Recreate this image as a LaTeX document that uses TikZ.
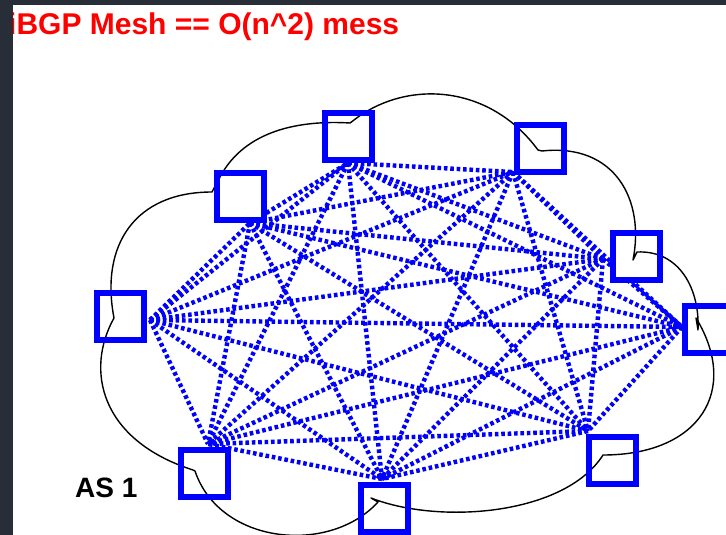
\documentclass[tikz,border=0pt]{standalone}
\usepackage{fontspec}
\setmainfont{Liberation Sans}
\definecolor{frameband}{HTML}{272E38}
\pgfdeclarelayer{meshlayer}
\pgfdeclarelayer{filllayer}
\pgfdeclarelayer{cloudlayer}
\pgfsetlayers{meshlayer,filllayer,cloudlayer,main}
\tikzset{
  router/.style={rectangle, minimum size=47pt, inner sep=0pt, draw=blue, line width=6pt},
  meshlink/.style={blue, line width=4.4pt, dash pattern=on 3.6pt off 2.8pt},
  cloudline/.style={black, line width=1.4pt, line join=round},
  titletext/.style={anchor=base west, text=red, font=\bfseries\fontsize{30}{32}\selectfont, inner sep=0pt},
  astext/.style={anchor=base west, text=black, font=\bfseries\fontsize{28}{30}\selectfont, inner sep=0pt}
}
\begin{document}
\begin{tikzpicture}[x=1pt, y=-1pt]
\useasboundingbox (0,0) rectangle (726,535);
\clip (0,0) rectangle (726,535);

% routers (frames on the main layer)
\node[router] (L)  at (120,316) {};
\node[router] (TL) at (240,196) {};
\node[router] (T)  at (348,136) {};
\node[router] (TR) at (540,148) {};
\node[router] (RU) at (636,256) {};
\node[router] (R)  at (708,329) {};
\node[router] (BR) at (612,460) {};
\node[router] (B)  at (384,508) {};
\node[router] (BL) at (204,473) {};

% points on each router where its sessions attach
\coordinate (L-port)  at (150,320);
\coordinate (TL-port) at (250,223);
\coordinate (T-port)  at (348,163);
\coordinate (TR-port) at (513,172);
\coordinate (RU-port) at (603,259);
\coordinate (R-port)  at (682,327);
\coordinate (BR-port) at (588,431);
\coordinate (B-port)  at (382,479);
\coordinate (BL-port) at (208,444);

% page background and full mesh of iBGP sessions
\begin{pgfonlayer}{meshlayer}
  \fill[white] (0,0) rectangle (726,535);
  \foreach \a [count=\i] in {L,TL,T,TR,RU,R,BR,B,BL}{
    \foreach \b [count=\j] in {L,TL,T,TR,RU,R,BR,B,BL}{
      \ifnum\j>\i
        \draw[meshlink] (\a-port) -- (\b-port);
      \fi
    }
  }
\end{pgfonlayer}

% white interiors of the routers
\begin{pgfonlayer}{filllayer}
  \foreach \r in {L,TL,T,TR,RU,R,BR,B,BL}{
    \fill[white] (\r.south west) rectangle (\r.north east);
  }
\end{pgfonlayer}

% the AS cloud
\begin{pgfonlayer}{cloudlayer}
  \draw[cloudline]
    (114,318) .. controls (100,245) and (135,192) .. (212,192)
    -- (220,177)
    .. controls (245,130) and (300,120) .. (350,123)
    -- (358,117)
    .. controls (410,80) and (490,85) .. (538,150)
    -- (542,151)
    .. controls (615,143) and (645,200) .. (633,260)
    -- (637,252)
    .. controls (680,250) and (700,290) .. (698,330)
    -- (696,318)
    .. controls (740,390) and (700,455) .. (603,455)
    .. controls (565,515) and (440,525) .. (371,498)
    -- (378,502)
    .. controls (330,555) and (220,545) .. (195,471)
    -- (193,470)
    .. controls (100,440) and (85,370) .. (114,318);
\end{pgfonlayer}

% labels
\node[titletext] (title) at (8,35) {iBGP Mesh == O(n\textasciicircum 2) mess};
\node[astext] (as) at (75,497) {AS 1};

% window edge
\fill[frameband] (0,0) rectangle (726,5);
\fill[frameband] (0,0) rectangle (13,535);
\end{tikzpicture}
\end{document}
